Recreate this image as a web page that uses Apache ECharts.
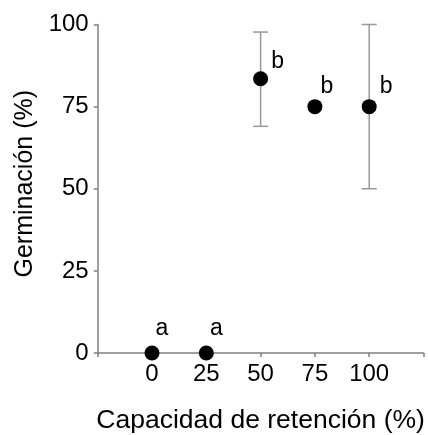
<!DOCTYPE html>
<html>
<head>
<meta charset="utf-8">
<script src="https://cdn.jsdelivr.net/npm/echarts@6/dist/echarts.min.js"></script>
<style>html,body{margin:0;padding:0;background:#fff}#c{width:428px;height:435px}</style>
</head>
<body>
<div id="c"></div>
<script>
// Data
var retention = [0, 25, 50, 75, 100];
var germination = [0, 0, 83.5, 75, 75];
var errLow = [null, null, 69, null, 50];
var errHigh = [null, null, 97.7, null, 100];
var letters = ['a', 'a', 'b', 'b', 'b'];
var xTicks = [0, 25, 50, 75, 100];
var yTicks = [0, 25, 50, 75, 100];

// Styles (label offsets)
var labelOffsets = [[10, -24], [10, -24], [17, -17], [12, -20], [17, -20]];

var FONT = 'Liberation Sans, Arial, sans-serif';
var chart = echarts.init(document.getElementById('c'), null, {renderer: 'canvas'});

var pointData = retention.map(function (x, i) {
  return {
    value: [x, germination[i]],
    label: {
      show: true, formatter: letters[i], position: 'inside',
      offset: labelOffsets[i], color: '#000', fontSize: 23, fontFamily: FONT
    }
  };
});
var errData = [];
retention.forEach(function (x, i) {
  if (errLow[i] != null) errData.push([x, errLow[i], errHigh[i]]);
});

chart.setOption({
  animation: false,
  grid: {left: 97.7, right: 4.5, top: 24.5, bottom: 82, containLabel: false, outerBoundsMode: 'none'},
  xAxis: {
    type: 'value', min: -25, max: 125, interval: 25,
    name: 'Capacidad de retención (%)', nameLocation: 'middle', nameGap: 54,
    nameTextStyle: {color: '#000', fontSize: 26.5, fontFamily: FONT},
    axisLine: {show: true, onZero: false, lineStyle: {color: '#808080', width: 1.5}},
    axisTick: {show: true, inside: false, length: 4, lineStyle: {color: '#808080', width: 1.5}},
    axisLabel: {
      color: '#000', fontSize: 24, fontFamily: FONT, margin: 9,
      formatter: function (v) { return xTicks.indexOf(v) >= 0 ? String(v) : ''; }
    },
    splitLine: {show: false}
  },
  yAxis: {
    type: 'value', min: 0, max: 100, interval: 25,
    name: 'Germinación (%)', nameLocation: 'middle', nameGap: 60, nameRotate: 90,
    nameTextStyle: {color: '#000', fontSize: 25, fontFamily: FONT, padding: [0, 0, 0, 10]},
    axisLine: {show: true, onZero: false, lineStyle: {color: '#808080', width: 1.5}},
    axisTick: {show: true, inside: false, length: 4, lineStyle: {color: '#808080', width: 1.5}},
    axisLabel: {
      color: '#000', fontSize: 24, fontFamily: FONT, margin: 9,
      formatter: function (v) { return yTicks.indexOf(v) >= 0 ? String(v) : ''; }
    },
    splitLine: {show: false}
  },
  series: [
    {
      type: 'custom',
      data: errData,
      z: 1,
      renderItem: function (params, api) {
        var x = api.value(0);
        var lo = api.coord([x, api.value(1)]);
        var hi = api.coord([x, api.value(2)]);
        var hw = 7.5;
        var st = {stroke: '#999', lineWidth: 1.5};
        return {
          type: 'group',
          children: [
            {type: 'line', shape: {x1: lo[0], y1: lo[1], x2: hi[0], y2: hi[1]}, style: st},
            {type: 'line', shape: {x1: lo[0] - hw, y1: lo[1], x2: lo[0] + hw, y2: lo[1]}, style: st},
            {type: 'line', shape: {x1: hi[0] - hw, y1: hi[1], x2: hi[0] + hw, y2: hi[1]}, style: st}
          ]
        };
      }
    },
    {
      type: 'scatter',
      data: pointData,
      symbol: 'circle', symbolSize: 15,
      itemStyle: {color: '#000', opacity: 1},
      z: 3
    }
  ]
});
</script>
</body>
</html>
